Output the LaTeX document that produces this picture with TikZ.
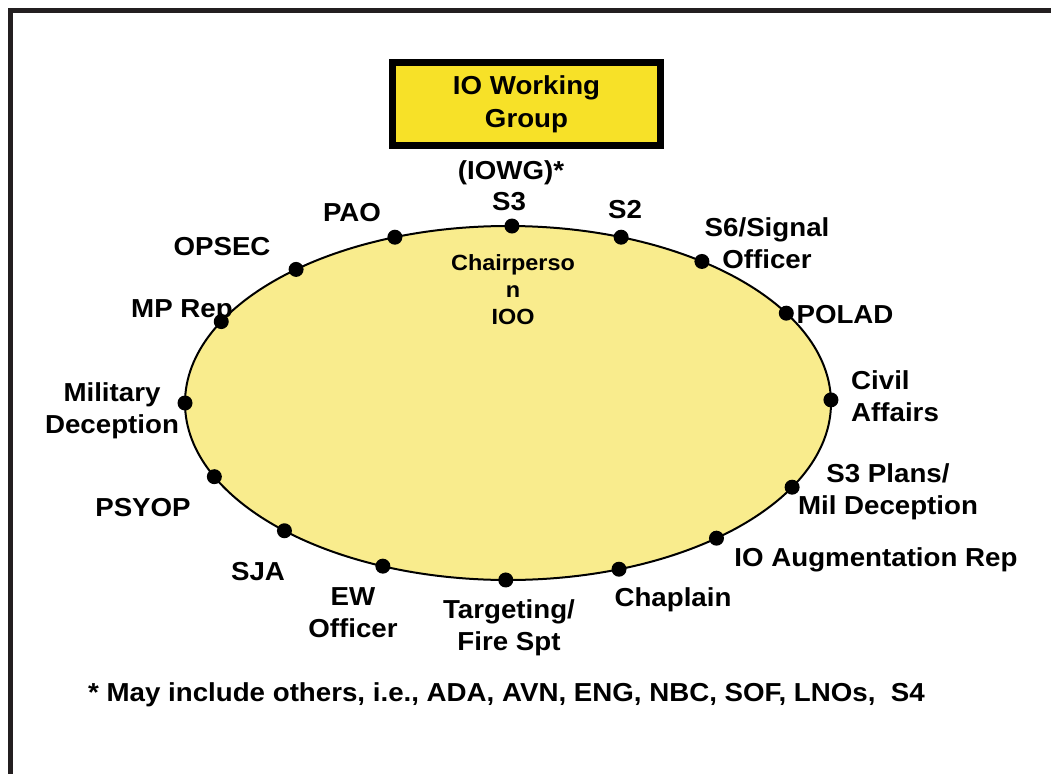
\documentclass[tikz,border=0pt]{standalone}
\usepackage{fontspec}
\setmainfont{Liberation Sans}[FakeStretch=1.065]
\definecolor{framegray}{HTML}{231F20}
\definecolor{groupfill}{HTML}{F9EC8D}
\definecolor{titlefill}{HTML}{F7E128}
\begin{document}
\begin{tikzpicture}[x=1pt,y=-1pt,
  lbl/.style={font=\fontsize{26}{32}\selectfont\bfseries, align=center, inner sep=0pt},
  member/.style={circle, fill=black, minimum size=15pt, inner sep=0pt},
  frameline/.style={draw=framegray, line width=5pt}]
\useasboundingbox (0,0) rectangle (1051,773);
% outer frame (runs off the right and bottom edges)
\draw[frameline] (10,10.5) rectangle (1120,840);

% title box
\node[draw, line width=7pt, fill=titlefill, minimum width=268pt, minimum height=83pt,
      inner sep=0pt, font=\fontsize{26}{33}\selectfont\bfseries, align=center]
  (title) at (526.5,104) {IO Working\\Group};

% the working group
\draw[fill=groupfill, line width=2pt] (508,403) ellipse [x radius=323pt, y radius=177pt];
\node[lbl, font=\fontsize{22}{27}\selectfont\bfseries] (chair) at (513,290) {Chairperso\\n\\IOO};

% members around the table
\foreach \n/\t in {s3/-89.3, s2/-69.5, s6/-53.1, polad/-30.5, civil/-1, plans/28.4,
                   aug/49.8, chap/69.9, tgt/90.4, ew/112.8, sja/133.8, psyop/155.4,
                   mildec/180, mp/207.4, opsec/229, pao/249.5}
  \node[member] (d-\n) at ({508+323*cos(\t)},{403+177*sin(\t)}) {};

% member labels
\node[lbl] (l-iowg) at (511,173) {(IOWG)*};
\node[lbl] (l-s3) at (509,202) {S3};
\node[lbl] (l-s2) at (625,210) {S2};
\node[lbl] (l-s6) at (767,243) {S6/Signal\\Officer};
\node[lbl] (l-polad) at (845,315) {POLAD};
\node[lbl, align=left, anchor=west] (l-civil) at (851,396) {Civil\\Affairs};
\node[lbl] (l-plans) at (888,492) {S3 Plans/\\Mil Deception};
\node[lbl] (l-aug) at (876,560) {IO Augmentation Rep};
\node[lbl] (l-chap) at (673,600) {Chaplain};
\node[lbl] (l-tgt) at (509,628) {Targeting/\\Fire Spt};
\node[lbl] (l-ew) at (353,613) {EW\\Officer};
\node[lbl] (l-sja) at (258,572) {SJA};
\node[lbl] (l-psyop) at (143,508) {PSYOP};
\node[lbl] (l-mildec) at (112,411) {Military\\Deception};
\node[lbl] (l-mp) at (182,311) {MP Rep};
\node[lbl] (l-opsec) at (222,247) {OPSEC};
\node[lbl] (l-pao) at (352,213) {PAO};

% footnote
\node[lbl, anchor=west] (note) at (88,695) {* May include others, i.e., ADA, AVN, ENG, NBC, SOF, LNOs,\ \ S4};
\end{tikzpicture}
\end{document}
